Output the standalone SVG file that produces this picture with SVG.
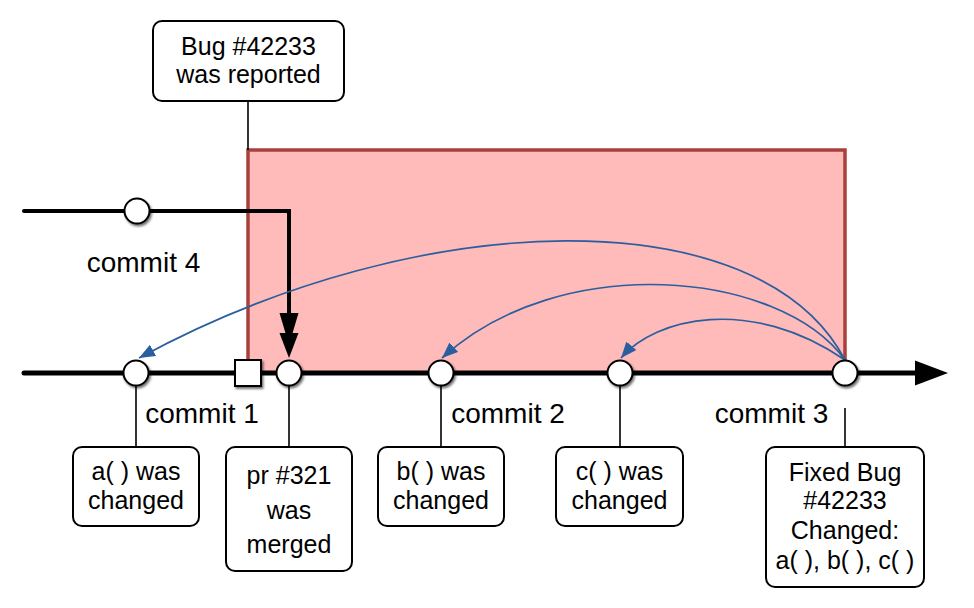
<svg xmlns="http://www.w3.org/2000/svg" width="974" height="608" viewBox="0 0 974 608">
<style>
.box{fill:#fff;stroke:#000;stroke-width:2}
.t{font-family:"Liberation Sans",Arial,sans-serif;font-size:25px;fill:#000;text-anchor:middle}
.lbl{font-family:"Liberation Sans",Arial,sans-serif;font-size:28px;fill:#000;text-anchor:middle}
.commit{fill:#fff;stroke:#000;stroke-width:2;filter:url(#sh)}
.lead{stroke:#000;stroke-width:1.6;fill:none}
.blue{stroke:#2a5f9f;stroke-width:1.7;fill:none;marker-end:url(#ba)}
</style>
<defs>
<filter id="sh" x="-30%" y="-30%" width="170%" height="170%">
<feDropShadow dx="1.5" dy="2" stdDeviation="0.8" flood-color="#000" flood-opacity="0.55"/>
</filter>
<marker id="ba" markerUnits="userSpaceOnUse" markerWidth="20" markerHeight="16" refX="16" refY="6.5" orient="auto">
<path d="M0,0 L16,6.5 L0,13 Z" fill="#2a5f9f"/>
</marker>
</defs>
<rect width="974" height="608" fill="#fff"/>
<g id="bug-window">
<rect x="248" y="150" width="597" height="223" fill="#ffbaba" stroke="#a8413c" stroke-width="3.5"/>
</g>
<g id="connectors">
<line class="lead" x1="248" y1="101" x2="248" y2="150"/>
<line x1="24" y1="373" x2="918" y2="373" stroke="#000" stroke-width="5" stroke-linecap="round"/>
<polygon points="915,360.5 948,373 915,385.5" fill="#000"/>
<polyline points="24,211 289,211 289,330" fill="none" stroke="#000" stroke-width="4" stroke-linecap="round"/>
<polygon points="279.5,313 298.5,313 289,345" fill="#000"/>
<polygon points="279.5,333 298.5,333 289,358" fill="#000"/>
<line class="lead" x1="136" y1="386" x2="136" y2="447"/>
<line class="lead" x1="289" y1="386" x2="289" y2="447"/>
<line class="lead" x1="441" y1="386" x2="441" y2="447"/>
<line class="lead" x1="620" y1="386" x2="620" y2="447"/>
<line class="lead" x1="845" y1="408" x2="845" y2="447"/>
<path class="blue" d="M845,360 C760,198 420,205 139,358"/>
<path class="blue" d="M845,360 C780,270 560,250 442,358"/>
<path class="blue" d="M845,360 C750,295 655,318 621,358"/>
</g>
<g id="bug-reported">
<rect class="box" x="153" y="21" width="191" height="80" rx="9"/>
<text class="t" x="248.5" y="55">Bug #42233</text>
<text class="t" x="248.5" y="83">was reported</text>
</g>
<g id="commit4">
<circle class="commit" cx="137" cy="211" r="12.5"/>
<text class="lbl" x="143.5" y="272">commit 4</text>
</g>
<g id="merge-point">
<rect x="235" y="360" width="26" height="26" fill="#fff" stroke="#000" stroke-width="2" filter="url(#sh)"/>
</g>
<g id="commit1">
<circle class="commit" cx="136" cy="373" r="12.5"/>
<text class="lbl" x="202" y="423">commit 1</text>
</g>
<g id="pr-commit">
<circle class="commit" cx="289" cy="373" r="12.5"/>
</g>
<g id="commit2">
<circle class="commit" cx="441" cy="373" r="12.5"/>
<text class="lbl" x="508" y="423">commit 2</text>
</g>
<g id="c-commit">
<circle class="commit" cx="620" cy="373" r="12.5"/>
</g>
<g id="commit3">
<circle class="commit" cx="845" cy="373" r="12.5"/>
<text class="lbl" x="771.5" y="423">commit 3</text>
</g>
<g id="a-changed">
<rect class="box" x="73" y="447" width="126" height="79" rx="9"/>
<text class="t" x="136" y="480">a( ) was</text>
<text class="t" x="136" y="509">changed</text>
</g>
<g id="pr-merged">
<rect class="box" x="226" y="447" width="126" height="124" rx="9"/>
<text class="t" x="289" y="484">pr #321</text>
<text class="t" x="289" y="519">was</text>
<text class="t" x="289" y="553">merged</text>
</g>
<g id="b-changed">
<rect class="box" x="378" y="447" width="126" height="79" rx="9"/>
<text class="t" x="441" y="480">b( ) was</text>
<text class="t" x="441" y="509">changed</text>
</g>
<g id="c-changed">
<rect class="box" x="556" y="447" width="127" height="79" rx="9"/>
<text class="t" x="619.5" y="480">c( ) was</text>
<text class="t" x="619.5" y="509">changed</text>
</g>
<g id="fixed-bug">
<rect class="box" x="766" y="447" width="158" height="140" rx="9"/>
<text class="t" x="845" y="481">Fixed Bug</text>
<text class="t" x="845" y="509">#42233</text>
<text class="t" x="845" y="539">Changed:</text>
<text class="t" x="845" y="569">a( ), b( ), c( )</text>
</g>
</svg>
